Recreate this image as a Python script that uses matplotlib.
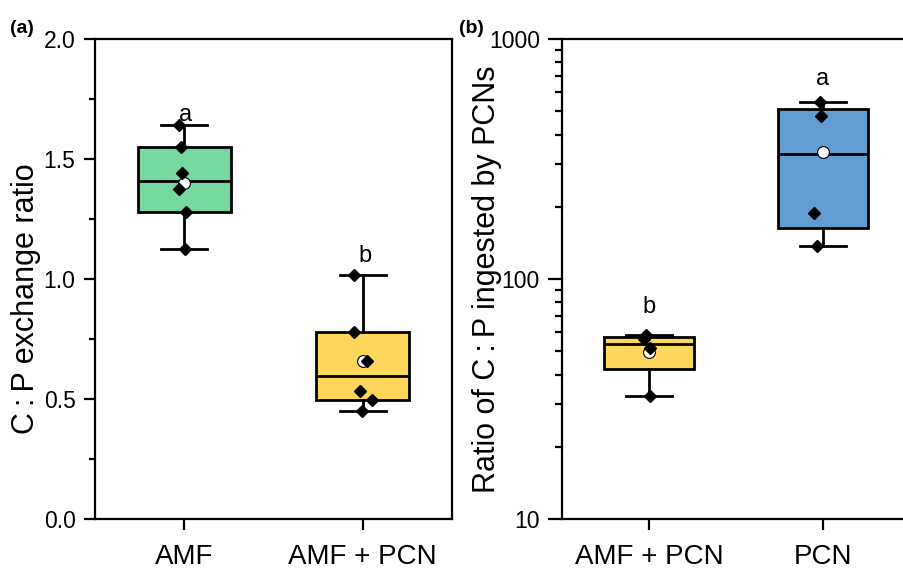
import matplotlib
matplotlib.use('Agg')
import matplotlib.pyplot as plt
from matplotlib.ticker import MultipleLocator, LogLocator, NullFormatter, FixedLocator
import numpy as np

plt.rcParams['font.family'] = ['Liberation Sans', 'DejaVu Sans']

# panel (a): C:P exchange ratio
a_groups = ['AMF', 'AMF + PCN']
a_amf = [1.64, 1.55, 1.44, 1.375, 1.28, 1.125]
a_amf_pcn = [1.017, 0.78, 0.66, 0.535, 0.496, 0.451]
a_jitter = [[-0.032, -0.019, -0.010, -0.027, 0.011, 0.006],
            [-0.050, -0.050, 0.024, -0.018, 0.052, -0.005]]
a_letters = ['a', 'b']
a_letter_y = [1.66, 1.07]

# panel (b): ratio of C:P ingested by PCNs
b_groups = ['AMF + PCN', 'PCN']
b_amf_pcn = [58.4, 56.1, 51.4, 32.7]
b_pcn = [548, 476, 188, 137]
b_jitter = [[-0.020, -0.030, 0.008, 0.008],
            [-0.020, -0.010, -0.054, -0.035]]
b_letters = ['b', 'a']
b_letter_y = [72, 643]

green = '#77D7A0'
yellow = '#FDD75C'
blue = '#639CD0'


def tukey_stats(vals, label):
    v = np.sort(np.array(vals, dtype=float))
    n = len(v)
    half = (n + 1) // 2
    lower = v[:half]
    upper = v[n - half:]
    return dict(med=np.median(v), q1=np.median(lower), q3=np.median(upper),
                whislo=v.min(), whishi=v.max(), mean=v.mean(), label=label, fliers=[])


def draw_panel(ax, data, groups, colors, jitter):
    stats = [tukey_stats(d, g) for d, g in zip(data, groups)]
    pos = [1, 2]
    bp = ax.bxp(stats, positions=pos, widths=0.52, capwidths=0.26,
                patch_artist=True, showmeans=True, showfliers=False,
                boxprops=dict(linewidth=2, edgecolor='black'),
                whiskerprops=dict(linewidth=2, color='black'),
                capprops=dict(linewidth=2, color='black'),
                medianprops=dict(linewidth=2, color='black'),
                meanprops=dict(marker='o', markerfacecolor='white', markeredgecolor='black',
                               markeredgewidth=0.8, markersize=8.5))
    for patch, c in zip(bp['boxes'], colors):
        patch.set_facecolor(c)
    for m in bp['means']:
        m.set_zorder(4)
    for i, d in enumerate(data):
        x = pos[i] + np.array(jitter[i])
        ax.plot(x, d, 'D', color='black', markersize=6.5, zorder=5, linestyle='none')
    ax.set_xlim(0.5, 2.5)
    ax.set_xticks(pos)
    for s in ax.spines.values():
        s.set_linewidth(1.6)
    ax.tick_params(axis='both', which='major', direction='out', width=1.6, length=8, labelsize=16.5, pad=6)
    ax.tick_params(axis='x', which='major', pad=10, labelsize=20)
    ax.tick_params(axis='y', which='minor', direction='out', width=1.6, length=4.5)
    ax.tick_params(axis='x', which='minor', bottom=False)
    ax.set_xticklabels(groups)


fig = plt.figure(figsize=(9.04, 5.71), dpi=100)
ax1 = fig.add_axes([95 / 904, 52 / 571, 357 / 904, 480 / 571])
ax2 = fig.add_axes([562 / 904, 52 / 571, 348 / 904, 480 / 571])

draw_panel(ax1, [a_amf, a_amf_pcn], a_groups, [green, yellow], a_jitter)
ax1.set_ylim(0, 2.0)
ax1.yaxis.set_major_locator(MultipleLocator(0.5))
ax1.yaxis.set_minor_locator(MultipleLocator(0.25))
ax1.yaxis.set_major_formatter(matplotlib.ticker.FormatStrFormatter('%.1f'))
ax1.set_ylabel('C\u2009:\u2009P exchange ratio', fontsize=22)
ax1.yaxis.set_label_coords(-0.15, 0.46)
for i, (t, y) in enumerate(zip(a_letters, a_letter_y)):
    ax1.text(i + 1.01, y, t, ha='center', va='baseline', fontsize=17)

draw_panel(ax2, [b_amf_pcn, b_pcn], b_groups, [yellow, blue], b_jitter)
ax2.set_yscale('log')
ax2.set_ylim(10, 1000)
ax2.yaxis.set_major_locator(FixedLocator([10, 100, 1000]))
ax2.yaxis.set_major_formatter(matplotlib.ticker.FuncFormatter(lambda v, p: '%d' % v))
ax2.yaxis.set_minor_locator(LogLocator(base=10, subs=np.arange(2, 10)))
ax2.yaxis.set_minor_formatter(NullFormatter())
ax2.tick_params(axis='y', which='major', length=10)
ax2.tick_params(axis='y', which='minor', length=5)
ax2.set_ylabel('Ratio of C\u2009:\u2009P ingested by PCNs', fontsize=22)
ax2.yaxis.set_label_coords(-0.172, 0.5)
for i, (t, y) in enumerate(zip(b_letters, b_letter_y)):
    ax2.text(i + 1, y, t, ha='center', va='baseline', fontsize=17)

fig.text(10 / 904, 1 - 33 / 571, '(a)', fontsize=14, fontweight='bold')
fig.text(459 / 904, 1 - 33 / 571, '(b)', fontsize=14, fontweight='bold')

fig.savefig('out.png', dpi=100)
